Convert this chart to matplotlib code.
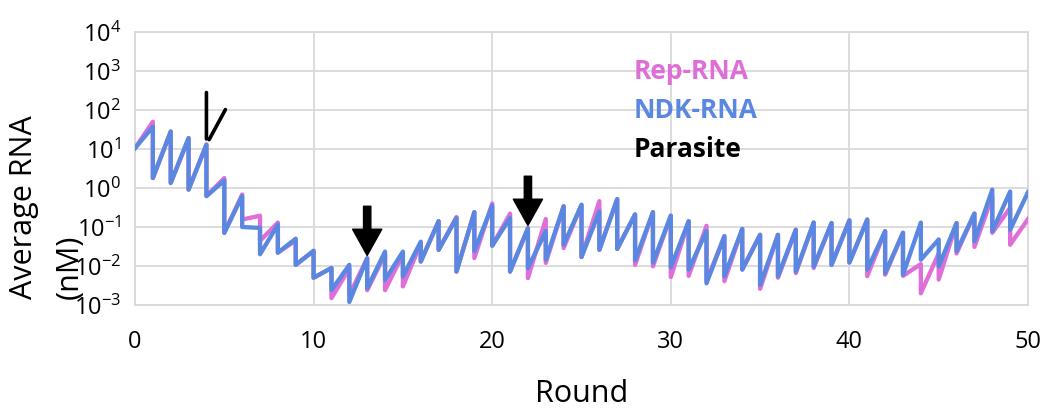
import matplotlib
matplotlib.use("Agg")
import matplotlib.pyplot as plt
import numpy as np

# ---------------- data (nM) ----------------
start_value = 10.5
rounds = list(range(1, 51))

# value at the end of each round (before dilution) and right after dilution
ndk_peaks = [37, 28, 19, 13, 1.55, 0.62, 0.095, 0.115, 0.050, 0.0245,
             0.0089, 0.0107, 0.0158, 0.0234, 0.0234, 0.042, 0.141, 0.17, 0.24, 0.355,
             0.17, 0.093, 0.078, 0.34, 0.37, 0.25, 0.52, 0.21, 0.24, 0.195,
             0.141, 0.078, 0.058, 0.089, 0.063, 0.063, 0.085, 0.13, 0.126, 0.148,
             0.155, 0.078, 0.071, 0.13, 0.048, 0.126, 0.22, 0.91, 0.81, 0.78]
ndk_troughs = [1.8, 1.35, 0.91, 0.62, 0.071, 0.10, 0.020, 0.022, 0.0107, 0.005,
               0.0024, 0.0012, 0.0027, 0.0044, 0.0054, 0.013, 0.026, 0.0072, 0.024, 0.033,
               0.0072, 0.0089, 0.0145, 0.035, 0.017, 0.026, 0.0275, 0.014, 0.0123, 0.0093,
               0.0081, 0.0036, 0.0055, 0.0081, 0.0033, 0.0055, 0.0072, 0.0098, 0.0107, 0.0123,
               0.0081, 0.0066, 0.006, 0.0145, 0.0098, 0.024, 0.043, 0.078, 0.085]

rep_peaks = [50, 28, 19, 13, 1.8, 0.68, 0.195, 0.13, 0.045, 0.0245,
             0.0089, 0.0087, 0.0158, 0.020, 0.020, 0.038, 0.141, 0.18, 0.24, 0.40,
             0.22, 0.093, 0.16, 0.34, 0.37, 0.46, 0.52, 0.21, 0.24, 0.195,
             0.141, 0.107, 0.058, 0.089, 0.063, 0.063, 0.085, 0.13, 0.126, 0.148,
             0.155, 0.078, 0.071, 0.0112, 0.021, 0.126, 0.22, 0.60, 0.31, 0.16]
rep_troughs = [1.8, 1.35, 0.91, 0.62, 0.071, 0.155, 0.044, 0.022, 0.0107, 0.005,
               0.0015, 0.0018, 0.0024, 0.0024, 0.003, 0.013, 0.026, 0.0072, 0.016, 0.033,
               0.0072, 0.0049, 0.012, 0.029, 0.017, 0.026, 0.0275, 0.0107, 0.0098, 0.0052,
               0.0056, 0.0041, 0.0041, 0.0081, 0.0026, 0.005, 0.0066, 0.0089, 0.0107, 0.0123,
               0.0055, 0.006, 0.0056, 0.002, 0.0045, 0.021, 0.031, 0.071, 0.035]

series_names = ["Rep-RNA", "NDK-RNA", "Parasite"]
series_colors = ["#DE6FD9", "#5A88E0", "#000000"]
marked_rounds = [13, 22]
x_ticks = [0, 10, 20, 30, 40, 50]
y_ticks = [1e-3, 1e-2, 1e-1, 1e0, 1e1, 1e2, 1e3, 1e4]


def sawtooth(start, peaks, troughs):
    xs, ys = [0], [start]
    for i, r in enumerate(rounds):
        xs.append(r)
        ys.append(peaks[i])
        if i < len(troughs):
            xs.append(r)
            ys.append(troughs[i])
    return xs, ys


plt.rcParams['font.family'] = ['Open Sans', 'DejaVu Sans']
plt.rcParams['mathtext.fontset'] = 'custom'
plt.rcParams['mathtext.rm'] = 'Open Sans'
plt.rcParams['mathtext.it'] = 'Open Sans'

fig = plt.figure(figsize=(10.48, 4.11), dpi=100)
ax = fig.add_axes([135 / 1048, 1 - 305 / 411, (1028 - 135) / 1048, (305 - 32) / 411])

rx, ry = sawtooth(start_value, rep_peaks, rep_troughs)
nx, ny = sawtooth(start_value, ndk_peaks, ndk_troughs)
ax.plot(rx, ry, color=series_colors[0], lw=3.1, solid_joinstyle='round', zorder=3)
ax.plot(nx, ny, color=series_colors[1], lw=3.1, solid_joinstyle='round', zorder=4)

ax.set_yscale('log')
ax.set_ylim(1e-3, 1e4)
ax.set_xlim(0, 50)
ax.set_xticks(x_ticks)
ax.set_yticks(y_ticks)
ax.set_yticklabels([r'$10^{%d}$' % int(np.log10(v)) for v in y_ticks])
ax.minorticks_off()
ax.tick_params(axis='both', length=0, labelsize=17)
ax.tick_params(axis='y', pad=10)
ax.tick_params(axis='x', pad=18)
ax.grid(True, color='#D9D9D9', lw=1.3)
ax.set_axisbelow(True)
for s in ax.spines.values():
    s.set_color('#D9D9D9')
    s.set_linewidth(1.3)

ax.set_xlabel('Round', fontsize=22, labelpad=18)
fig.text(24 / 1048, 1 - 299 / 411, 'Average RNA', rotation=90, fontsize=22,
         ha='center', va='bottom')
fig.text(70 / 1048, 1 - 299 / 411, '(nM)', rotation=90, fontsize=22,
         ha='center', va='bottom')

# legend-like labels
for i, (name, col) in enumerate(zip(series_names, series_colors)):
    ax.text(0.558, 0.854 - i * 0.142, name, transform=ax.transAxes, color=col,
            fontsize=19, fontweight='bold', ha='left', va='center')

# arrows pointing at peaks
for r in marked_rounds:
    ax.annotate('', xy=(r, ndk_peaks[r - 1]), xytext=(0, 52), textcoords='offset pixels',
                arrowprops=dict(arrowstyle='simple,head_width=1.0,head_length=0.9,tail_width=0.25',
                                mutation_scale=21, color='black', shrinkA=0, shrinkB=2),
                zorder=6)

# check-mark at round 4
ax.annotate('', xy=(4, ndk_peaks[3]), xytext=(0, 52), textcoords='offset pixels',
            arrowprops=dict(arrowstyle='-', lw=2.6, color='black', shrinkA=0, shrinkB=4), zorder=6)
ax.annotate('', xy=(4, ndk_peaks[3]), xytext=(19, 35), textcoords='offset pixels',
            arrowprops=dict(arrowstyle='-', lw=2.6, color='black', shrinkA=0, shrinkB=4), zorder=6)

fig.savefig('out.png', dpi=100)
